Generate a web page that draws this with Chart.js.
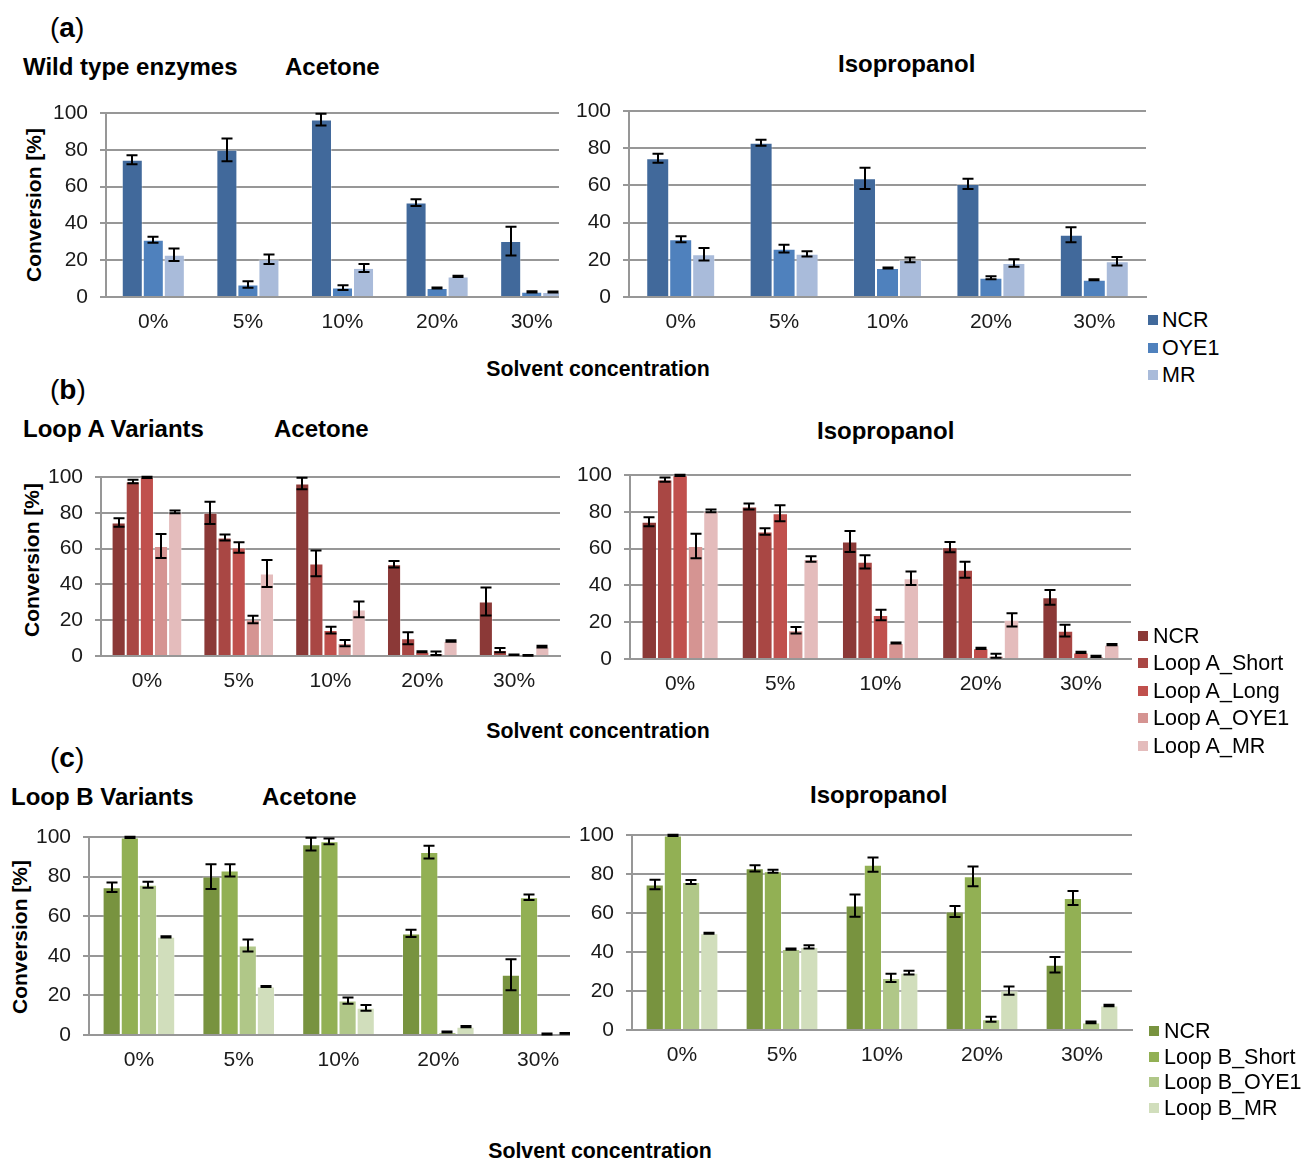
<!DOCTYPE html>
<html>
<head>
<meta charset="utf-8">
<script src="https://cdn.jsdelivr.net/npm/chart.js@4.4.1/dist/chart.umd.min.js"></script>
<style>
  html, body { margin: 0; padding: 0; background: #fff; }
  body { width: 1301px; height: 1159px; position: relative; overflow: hidden;
         font-family: "Liberation Sans", Arial, Helvetica, sans-serif; color: #000; }
  .t { position: absolute; white-space: nowrap; line-height: 1; }
  .title { font-size: 24px; font-weight: bold; }
  .panel { font-size: 28px; }
  .axis { font-size: 21.3px; font-weight: bold; }
  .ytitle { position: absolute; white-space: nowrap; line-height: 1; font-size: 21px; font-weight: bold;
            transform: translate(-50%, -50%) rotate(-90deg); }
  .wrap { position: absolute; overflow: hidden; }
  .leg { position: absolute; font-size: 21.5px; line-height: 1; white-space: nowrap; }
</style>
</head>
<body>

<div class="t panel" style="left:50px;top:14px">(<b>a</b>)</div>
<div class="t title" style="left:23px;top:55px">Wild type enzymes</div>
<div class="t title" style="left:285px;top:55px">Acetone</div>
<div class="t title" style="left:838px;top:52px">Isopropanol</div>
<div class="t axis" style="left:598px;top:359px;transform:translateX(-50%)">Solvent concentration</div>
<div class="ytitle" style="left:33px;top:205px">Conversion [%]</div>

<div class="t panel" style="left:50px;top:376px">(<b>b</b>)</div>
<div class="t title" style="left:23px;top:417px">Loop A Variants</div>
<div class="t title" style="left:274px;top:417px">Acetone</div>
<div class="t title" style="left:817px;top:419px">Isopropanol</div>
<div class="t axis" style="left:598px;top:721px;transform:translateX(-50%)">Solvent concentration</div>
<div class="ytitle" style="left:31px;top:560px">Conversion [%]</div>

<div class="t panel" style="left:50px;top:744px">(<b>c</b>)</div>
<div class="t title" style="left:11px;top:785px">Loop B Variants</div>
<div class="t title" style="left:262px;top:785px">Acetone</div>
<div class="t title" style="left:810px;top:783px">Isopropanol</div>
<div class="t axis" style="left:600px;top:1141px;transform:translateX(-50%)">Solvent concentration</div>
<div class="ytitle" style="left:19px;top:937px">Conversion [%]</div>

<div id="wtAce" class="wrap"></div>
<div id="wtIso" class="wrap"></div>
<div id="laAce" class="wrap"></div>
<div id="laIso" class="wrap"></div>
<div id="lbAce" class="wrap"></div>
<div id="lbIso" class="wrap"></div>

<div id="legA"></div>
<div id="legB"></div>
<div id="legC"></div>

<script>
// ---- categories and axis ticks ----
const concentrations = ['0%', '5%', '10%', '20%', '30%'];
const yTickValues = [0, 20, 40, 60, 80, 100];

// ---- NCR wild type (shared by all panels) ----
const acetoneNCR        = [74.6, 80.0, 96.4, 51.3, 30.4];
const acetoneNCRErr     = [2.4, 6.2, 3.2, 1.8, 7.8];
const isopropanolNCR    = [74.6, 82.9, 63.8, 60.8, 33.5];
const isopropanolNCRErr = [2.4, 1.6, 5.7, 2.8, 4.0];

// ---- (a) wild type enzymes ----
const wtNames  = ['NCR', 'OYE1', 'MR'];
const wtColors = ['#41699b', '#4f81bd', '#a9bbda'];
const acetoneOYE1        = [31.1, 6.8, 5.1, 4.9, 2.8];
const acetoneOYE1Err     = [1.6, 1.8, 1.3, 0.3, 0.3];
const acetoneMR          = [23.0, 20.5, 15.8, 11.2, 2.7];
const acetoneMRErr       = [3.4, 2.6, 2.2, 0.3, 0.3];
const isopropanolOYE1    = [31.1, 26.0, 15.6, 10.3, 9.3];
const isopropanolOYE1Err = [1.6, 2.1, 0.3, 0.8, 0.3];
const isopropanolMR      = [23.0, 23.2, 20.0, 18.3, 19.2];
const isopropanolMRErr   = [3.4, 1.4, 1.3, 2.0, 2.3];

// ---- (b) loop A variants ----
const loopANames  = ['NCR', 'Loop A_Short', 'Loop A_Long', 'Loop A_OYE1', 'Loop A_MR'];
const loopAColors = ['#8b3937', '#a94744', '#c0504d', '#d59492', '#e4bcbc'];
const acetoneLoopAShort        = [97.5, 66.2, 51.7, 9.9, 3.3];
const acetoneLoopAShortErr     = [1.0, 1.7, 7.2, 3.4, 1.2];
const acetoneLoopALong         = [99.8, 60.6, 14.5, 2.4, 0.7];
const acetoneLoopALongErr      = [0.3, 2.9, 1.9, 0.3, 0.2];
const acetoneLoopAOYE1         = [61.4, 20.4, 7.2, 1.5, 0.4];
const acetoneLoopAOYE1Err      = [6.7, 2.1, 1.7, 1.0, 0.2];
const acetoneLoopAMR           = [80.5, 46.1, 26.0, 8.4, 5.2];
const acetoneLoopAMRErr        = [0.8, 7.5, 4.4, 0.4, 0.5];
const isopropanolLoopAShort    = [97.5, 69.3, 52.8, 48.5, 15.4];
const isopropanolLoopAShortErr = [1.2, 1.8, 3.6, 4.3, 3.2];
const isopropanolLoopALong     = [99.8, 79.2, 23.9, 5.8, 3.6];
const isopropanolLoopALongErr  = [0.3, 4.3, 2.8, 0.3, 0.3];
const isopropanolLoopAOYE1     = [61.4, 15.6, 8.7, 1.8, 1.4];
const isopropanolLoopAOYE1Err  = [6.7, 1.8, 0.3, 1.1, 0.3];
const isopropanolLoopAMR       = [80.5, 54.4, 43.9, 21.3, 7.8];
const isopropanolLoopAMRErr    = [0.8, 1.5, 3.7, 3.6, 0.3];

// ---- (c) loop B variants ----
const loopBNames  = ['NCR', 'Loop B_Short', 'Loop B_OYE1', 'Loop B_MR'];
const loopBColors = ['#78933f', '#92b054', '#b0c788', '#d1debc'];
const acetoneLoopBShort        = [99.8, 83.1, 97.8, 92.4, 69.6];
const acetoneLoopBShortErr     = [0.3, 3.1, 1.5, 3.2, 1.4];
const acetoneLoopBOYE1         = [75.9, 45.2, 17.4, 1.5, 0.5];
const acetoneLoopBOYE1Err      = [1.5, 3.0, 1.6, 0.3, 0.2];
const acetoneLoopBMR           = [49.6, 24.5, 13.7, 4.2, 0.8];
const acetoneLoopBMRErr        = [0.3, 0.3, 1.4, 0.3, 0.2];
const isopropanolLoopBShort    = [99.8, 81.4, 84.8, 78.8, 67.7];
const isopropanolLoopBShortErr = [0.3, 0.8, 3.6, 5.1, 3.6];
const isopropanolLoopBOYE1     = [75.9, 41.5, 26.7, 5.5, 3.9];
const isopropanolLoopBOYE1Err  = [1.0, 0.3, 2.1, 1.3, 0.5];
const isopropanolLoopBMR       = [49.6, 42.6, 29.4, 20.2, 12.6];
const isopropanolLoopBMRErr    = [0.3, 0.8, 1.0, 2.1, 0.4];

// ---- drawing ----
const FONT = '"Liberation Sans", Arial, Helvetica, sans-serif';
const GRID = '#979797';
const Y_AXIS_W = 70, PAD_TOP = 28, X_AXIS_H = 46, PAD_R = 2;

// whisker with caps at value ± error on every bar
const errorBars = {
  id: 'errorBars',
  afterDatasetsDraw(chart) {
    const ctx = chart.ctx, y = chart.scales.y;
    ctx.save();
    ctx.strokeStyle = '#000';
    ctx.lineWidth = 2;
    chart.data.datasets.forEach((ds, i) => {
      const meta = chart.getDatasetMeta(i);
      meta.data.forEach((bar, j) => {
        const v = ds.data[j], e = ds.errors[j];
        const yt = y.getPixelForValue(v + e), yb = y.getPixelForValue(v - e);
        const x = Math.round(bar.x), c = 5.5;
        ctx.beginPath();
        ctx.moveTo(x, yt); ctx.lineTo(x, yb);
        ctx.moveTo(x - c, yt); ctx.lineTo(x + c, yt);
        ctx.moveTo(x - c, yb); ctx.lineTo(x + c, yb);
        ctx.stroke();
      });
    });
    ctx.restore();
  }
};

function drawPanel(wrapId, axisX, rightX, top100, bottom0, clipRight, names, colors, series, errors, catPct) {
  const wrap = document.getElementById(wrapId);
  const left = Math.round(axisX - Y_AXIS_W);
  const top = Math.round(top100 - PAD_TOP);
  const w = Math.round(rightX + PAD_R - left);
  const h = Math.round(bottom0 - top + X_AXIS_H);
  wrap.style.left = left + 'px';
  wrap.style.top = top + 'px';
  wrap.style.width = (clipRight ? clipRight - left : w) + 'px';
  wrap.style.height = h + 'px';
  const cv = document.createElement('canvas');
  cv.width = w; cv.height = h;
  cv.style.width = w + 'px'; cv.style.height = h + 'px';
  wrap.appendChild(cv);

  const tickFont = { family: FONT, size: 21 };
  new Chart(cv, {
    type: 'bar',
    data: {
      labels: concentrations,
      datasets: names.map((n, k) => ({
        label: n,
        data: series[k],
        errors: errors[k],
        backgroundColor: colors[k],
        borderColor: 'rgba(255,255,255,0.35)',
        borderWidth: 1,
        borderSkipped: 'start',
        barPercentage: 1.0,
        categoryPercentage: catPct
      }))
    },
    options: {
      responsive: false,
      animation: false,
      devicePixelRatio: 1,
      layout: { padding: { top: PAD_TOP, right: PAD_R, left: 0, bottom: 0 } },
      plugins: { legend: { display: false }, tooltip: { enabled: false } },
      scales: {
        x: {
          type: 'category',
          offset: true,
          grid: { display: false, drawTicks: false },
          border: { display: true, color: GRID, width: 2 },
          ticks: { font: tickFont, color: '#1a1a1a', padding: 13, maxRotation: 0, autoSkip: false },
          afterFit(s) { s.height = X_AXIS_H; }
        },
        y: {
          min: 0, max: 100,
          afterBuildTicks(s) { s.ticks = yTickValues.map(v => ({ value: v })); },
          grid: { color: GRID, lineWidth: 2, drawTicks: true, tickLength: 6 },
          border: { display: true, color: GRID, width: 2 },
          ticks: { font: tickFont, color: '#1a1a1a', padding: 12 },
          afterFit(s) { s.width = Y_AXIS_W; }
        }
      }
    },
    plugins: [errorBars]
  });
}

function drawLegend(id, names, colors, squareX, textX, ys) {
  const host = document.getElementById(id);
  names.forEach((n, k) => {
    const sq = document.createElement('div');
    sq.style.cssText = `position:absolute;left:${squareX}px;top:${ys[k] - 5}px;width:10px;height:10px;background:${colors[k]}`;
    host.appendChild(sq);
    const tx = document.createElement('div');
    tx.className = 'leg';
    tx.style.left = textX + 'px';
    tx.style.top = (ys[k] - 10.5) + 'px';
    tx.textContent = n;
    host.appendChild(tx);
  });
}

// (a)
drawPanel('wtAce', 106, 579, 113.3, 296.7, 559, wtNames, wtColors,
  [acetoneNCR, acetoneOYE1, acetoneMR],
  [acetoneNCRErr, acetoneOYE1Err, acetoneMRErr], 3 / 4.5);
drawPanel('wtIso', 629, 1146, 110.7, 297.3, null, wtNames, wtColors,
  [isopropanolNCR, isopropanolOYE1, isopropanolMR],
  [isopropanolNCRErr, isopropanolOYE1Err, isopropanolMRErr], 3 / 4.5);

// (b)
drawPanel('laAce', 101, 560, 476.7, 656, null, loopANames, loopAColors,
  [acetoneNCR, acetoneLoopAShort, acetoneLoopALong, acetoneLoopAOYE1, acetoneLoopAMR],
  [acetoneNCRErr, acetoneLoopAShortErr, acetoneLoopALongErr, acetoneLoopAOYE1Err, acetoneLoopAMRErr], 5 / 6.5);
drawPanel('laIso', 630, 1131, 475, 659.3, null, loopANames, loopAColors,
  [isopropanolNCR, isopropanolLoopAShort, isopropanolLoopALong, isopropanolLoopAOYE1, isopropanolLoopAMR],
  [isopropanolNCRErr, isopropanolLoopAShortErr, isopropanolLoopALongErr, isopropanolLoopAOYE1Err, isopropanolLoopAMRErr], 5 / 6.5);

// (c)
drawPanel('lbAce', 89, 588, 837.3, 1035, 570, loopBNames, loopBColors,
  [acetoneNCR, acetoneLoopBShort, acetoneLoopBOYE1, acetoneLoopBMR],
  [acetoneNCRErr, acetoneLoopBShortErr, acetoneLoopBOYE1Err, acetoneLoopBMRErr], 4 / 5.5);
drawPanel('lbIso', 632, 1132, 835, 1030, null, loopBNames, loopBColors,
  [isopropanolNCR, isopropanolLoopBShort, isopropanolLoopBOYE1, isopropanolLoopBMR],
  [isopropanolNCRErr, isopropanolLoopBShortErr, isopropanolLoopBOYE1Err, isopropanolLoopBMRErr], 4 / 5.5);

drawLegend('legA', wtNames, wtColors, 1148, 1162, [320, 348, 375]);
drawLegend('legB', loopANames, loopAColors, 1138, 1153, [636, 663, 691, 718, 746]);
drawLegend('legC', loopBNames, loopBColors, 1149, 1164, [1031, 1057, 1082, 1108]);
</script>
</body>
</html>
